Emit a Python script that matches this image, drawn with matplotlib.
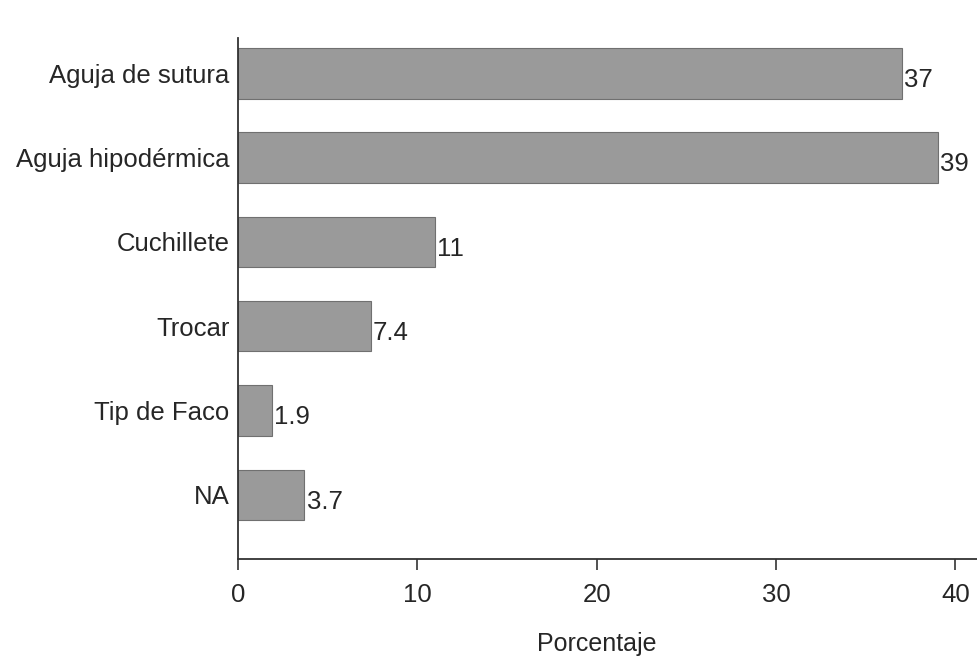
import matplotlib.pyplot as plt

categories = ["Aguja de sutura", "Aguja hipodérmica", "Cuchillete", "Trocar", "Tip de Faco", "NA"]
values = [37, 39, 11, 7.4, 1.9, 3.7]
value_labels = ["37", "39", "11", "7.4", "1.9", "3.7"]
xticks = [0, 10, 20, 30, 40]

plt.rcParams["font.family"] = ["Liberation Sans", "DejaVu Sans"]

fig = plt.figure(figsize=(9.77, 6.63), dpi=100)
ax = fig.add_axes([0.2436, 0.157, 0.7564, 0.786])

ypos = list(range(len(categories)))
ax.barh(ypos, values, height=0.6, color="#9a9a9a", edgecolor="#707070", linewidth=0.8)
for y, v, lab in zip(ypos, values, value_labels):
    ax.text(v + 0.12, y + 0.08, lab, va="center", ha="left", fontsize=18.5, color="#262626")

ax.set_yticks(ypos, labels=categories)
ax.set_ylim(5.76, -0.42)
ax.set_xlim(0, 41.2)
ax.set_xticks(xticks)

ax.tick_params(axis="y", length=0, pad=6, labelsize=18.5, labelcolor="#262626")
ax.tick_params(axis="x", length=8, width=1.2, pad=9, labelsize=18.5, labelcolor="#262626", color="#333333")

for s in ["top", "right"]:
    ax.spines[s].set_visible(False)
for s in ["left", "bottom"]:
    ax.spines[s].set_linewidth(1.3)
    ax.spines[s].set_color("#333333")

ax.set_xlabel("Porcentaje", fontsize=18, color="#262626")
ax.xaxis.set_label_coords(20 / 41.2, -0.14)

fig.savefig("out.png", dpi=100)
